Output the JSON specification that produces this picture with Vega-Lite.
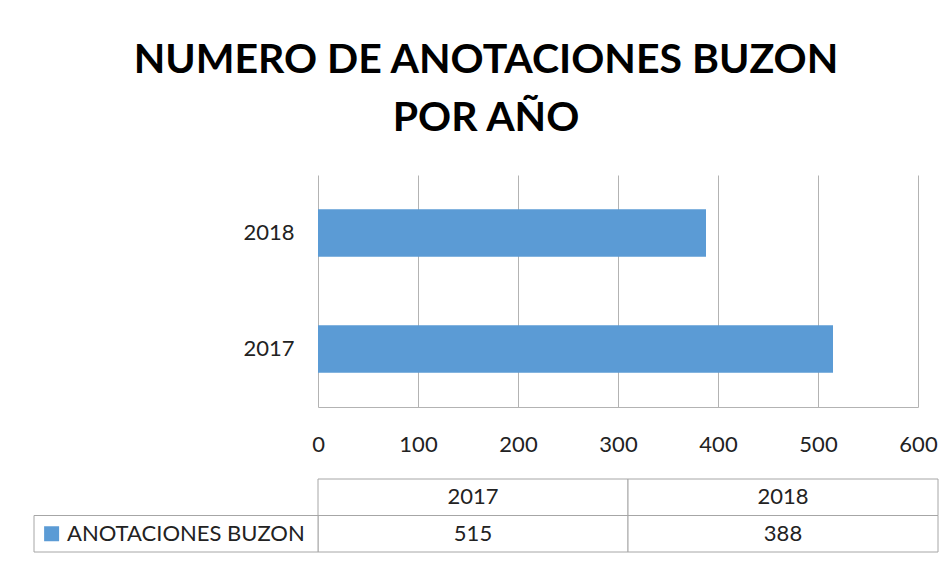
{
  "$schema": "https://vega.github.io/schema/vega-lite/v6.json",
  "padding": {"left": 33, "top": 40, "right": 5, "bottom": 5},
  "background": "white",
  "datasets": {
    "anot": [
      {"year": "2017", "value": 515},
      {"year": "2018", "value": 388}
    ]
  },
  "title": {
    "text": ["NUMERO DE ANOTACIONES BUZON", "POR AÑO"],
    "font": "Lato",
    "fontSize": 41,
    "fontWeight": "bold",
    "lineHeight": 58,
    "color": "#000000",
    "anchor": "middle",
    "frame": "bounds",
    "offset": 35
  },
  "config": {
    "font": "Lato",
    "view": {"stroke": null},
    "text": {"font": "Lato"}
  },
  "spacing": 23,
  "vconcat": [
    {
      "width": 600,
      "height": 232,
      "data": {"name": "anot"},
      "mark": {"type": "bar", "color": "#5b9bd5"},
      "encoding": {
        "y": {
          "field": "year",
          "type": "nominal",
          "sort": "descending",
          "scale": {"paddingInner": 0.59, "paddingOuter": 0.295},
          "axis": {
            "title": null,
            "domain": false,
            "ticks": false,
            "labelFont": "Lato",
            "labelFontSize": 22,
            "labelColor": "#222222",
            "labelPadding": 24
          }
        },
        "x": {
          "field": "value",
          "type": "quantitative",
          "scale": {"domain": [0, 600], "nice": false},
          "axis": {
            "title": null,
            "values": [0, 100, 200, 300, 400, 500, 600],
            "grid": true,
            "gridColor": "#b3b3b3",
            "gridWidth": 1,
            "domainColor": "#b3b3b3",
            "ticks": false,
            "labelFont": "Lato",
            "labelFontSize": 22,
            "labelColor": "#222222",
            "labelPadding": 27,
            "labelFlush": false
          }
        }
      }
    },
    {
      "width": 620,
      "height": 73,
      "data": {"name": "anot"},
      "resolve": {"scale": {"x": "independent"}},
      "encoding": {
        "y": {
          "type": "nominal",
          "scale": {"domain": ["Año", "ANOTACIONES BUZON"], "paddingInner": 0, "paddingOuter": 0},
          "axis": null
        }
      },
      "layer": [
        {
          "mark": {"type": "rect", "fill": "white", "stroke": "#a6a6a6", "strokeWidth": 1},
          "encoding": {
            "x": {"field": "year", "type": "nominal", "scale": {"paddingInner": 0, "paddingOuter": 0}, "axis": null},
            "y": {"datum": "Año", "type": "nominal"}
          }
        },
        {
          "mark": {"type": "text", "fontSize": 22, "color": "#222222", "baseline": "middle"},
          "encoding": {
            "x": {"field": "year", "type": "nominal", "scale": {"paddingInner": 0, "paddingOuter": 0}, "axis": null},
            "y": {"datum": "Año", "type": "nominal"},
            "text": {"field": "year"}
          }
        },
        {
          "mark": {"type": "rect", "fill": "white", "stroke": "#a6a6a6", "strokeWidth": 1},
          "encoding": {
            "x": {"field": "year", "type": "nominal", "scale": {"paddingInner": 0, "paddingOuter": 0}, "axis": null},
            "y": {"datum": "ANOTACIONES BUZON", "type": "nominal"}
          }
        },
        {
          "mark": {"type": "text", "fontSize": 22, "color": "#222222", "baseline": "middle"},
          "encoding": {
            "x": {"field": "year", "type": "nominal", "scale": {"paddingInner": 0, "paddingOuter": 0}, "axis": null},
            "y": {"datum": "ANOTACIONES BUZON", "type": "nominal"},
            "text": {"field": "value", "type": "quantitative"}
          }
        },
        {
          "data": {"values": [{"serie": "ANOTACIONES BUZON"}]},
          "mark": {"type": "rect", "fill": "white", "stroke": "#a6a6a6", "strokeWidth": 1},
          "encoding": {
            "x": {"field": "serie", "type": "nominal", "scale": {"type": "band", "range": [-284, 0], "paddingInner": 0, "paddingOuter": 0}, "axis": null},
            "y": {"field": "serie", "type": "nominal"}
          }
        },
        {
          "data": {"values": [{"serie": "ANOTACIONES BUZON"}]},
          "mark": {"type": "point", "shape": "square", "filled": true, "size": 225, "color": "#5b9bd5", "opacity": 1},
          "encoding": {
            "x": {"field": "serie", "type": "nominal", "bandPosition": 0.062, "scale": {"type": "band", "range": [-284, 0], "paddingInner": 0, "paddingOuter": 0}, "axis": null},
            "y": {"field": "serie", "type": "nominal"}
          }
        },
        {
          "data": {"values": [{"serie": "ANOTACIONES BUZON"}]},
          "mark": {"type": "text", "fontSize": 22, "color": "#222222", "align": "left", "baseline": "middle", "dx": 33},
          "encoding": {
            "x": {"field": "serie", "type": "nominal", "bandPosition": 0, "scale": {"type": "band", "range": [-284, 0], "paddingInner": 0, "paddingOuter": 0}, "axis": null},
            "y": {"field": "serie", "type": "nominal"},
            "text": {"field": "serie"}
          }
        }
      ]
    }
  ]
}
